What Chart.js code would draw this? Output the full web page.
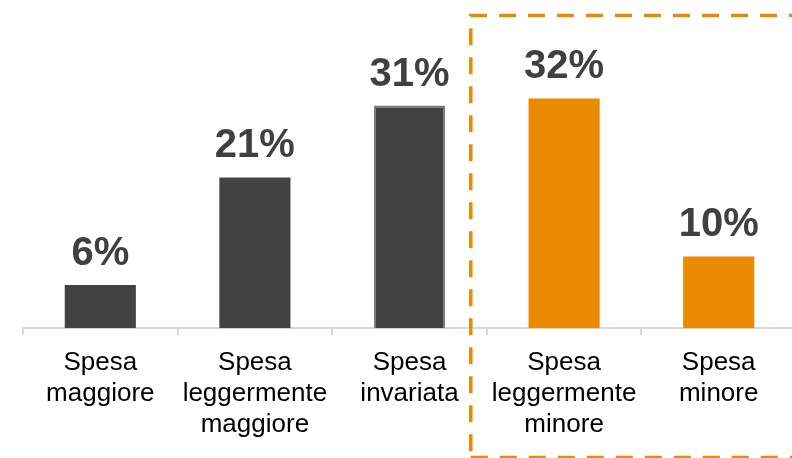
<!DOCTYPE html>
<html>
<head>
<meta charset="utf-8">
<script src="https://cdn.jsdelivr.net/npm/chart.js@4/dist/chart.umd.min.js"></script>
<style>
  html, body { margin: 0; padding: 0; background: #fff; overflow: hidden; }
  #wrap { position: relative; width: 796px; height: 458px; }
</style>
</head>
<body>
<div id="wrap"><canvas id="spesaChart"></canvas></div>
<script>
const categories = [
  ['Spesa', 'maggiore'],
  ['Spesa', 'leggermente', 'maggiore'],
  ['Spesa', 'invariata'],
  ['Spesa', 'leggermente', 'minore'],
  ['Spesa', 'minore']
];
const values = [6, 21, 31, 32, 10];
const barColors = ['#424242', '#424242', '#424242', '#E98A00', '#E98A00'];
const borderColors = ['#424242', '#424242', '#7a7a7a', '#E98A00', '#E98A00'];

// value labels above bars
const valueLabels = {
  id: 'valueLabels',
  afterDatasetsDraw(chart) {
    const ctx = chart.ctx;
    const meta = chart.getDatasetMeta(0);
    ctx.save();
    ctx.font = 'bold 40px "Liberation Sans", Arial, sans-serif';
    ctx.fillStyle = '#404040';
    ctx.textAlign = 'center';
    ctx.textBaseline = 'alphabetic';
    meta.data.forEach((bar, i) => {
      ctx.fillText(values[i] + '%', bar.x, bar.y - 20);
    });
    ctx.restore();
  }
};

// dashed box around the "minore" group
const highlightBox = {
  id: 'highlightBox',
  afterDraw(chart) {
    const ctx = chart.ctx;
    const x = chart.scales.x;
    const left = x.getPixelForValue(2.5) - 16;
    ctx.save();
    ctx.strokeStyle = '#E98A00';
    ctx.lineWidth = 3.5;
    ctx.setLineDash([17, 12]);
    ctx.beginPath();
    ctx.moveTo(chart.width + 10, 15.5);
    ctx.lineTo(left, 15.5);
    ctx.lineTo(left, chart.height + 10);
    ctx.moveTo(left, 457.5);
    ctx.lineTo(chart.width + 10, 457.5);
    ctx.stroke();
    ctx.restore();
  }
};

const ctx = document.getElementById('spesaChart').getContext('2d');
const spesaChart = new Chart(ctx, {
  type: 'bar',
  data: {
    labels: categories,
    datasets: [{
      data: values,
      backgroundColor: barColors,
      borderColor: borderColors,
      borderWidth: [0, 0, 2, 0, 0],
      borderSkipped: 'bottom',
      categoryPercentage: 1,
      barPercentage: 0.46
    }]
  },
  options: {
    responsive: true,
    maintainAspectRatio: false,
    animation: false,
    layout: { padding: { left: 23, right: 0, top: 41, bottom: 6 } },
    plugins: {
      legend: { display: false },
      tooltip: { enabled: false }
    },
    scales: {
      x: {
        grid: {
          display: true,
          drawOnChartArea: false,
          drawTicks: true,
          tickLength: 7,
          color: '#d9d9d9',
          lineWidth: 2
        },
        border: { display: true, color: '#d9d9d9', width: 2 },
        ticks: {
          color: '#000',
          padding: 12,
          maxRotation: 0,
          autoSkip: false,
          font: { family: '"Liberation Sans", Arial, sans-serif', size: 26, lineHeight: 1.19 }
        }
      },
      y: {
        display: false,
        min: 0,
        max: 40
      }
    }
  },
  plugins: [valueLabels, highlightBox]
});
</script>
</body>
</html>
